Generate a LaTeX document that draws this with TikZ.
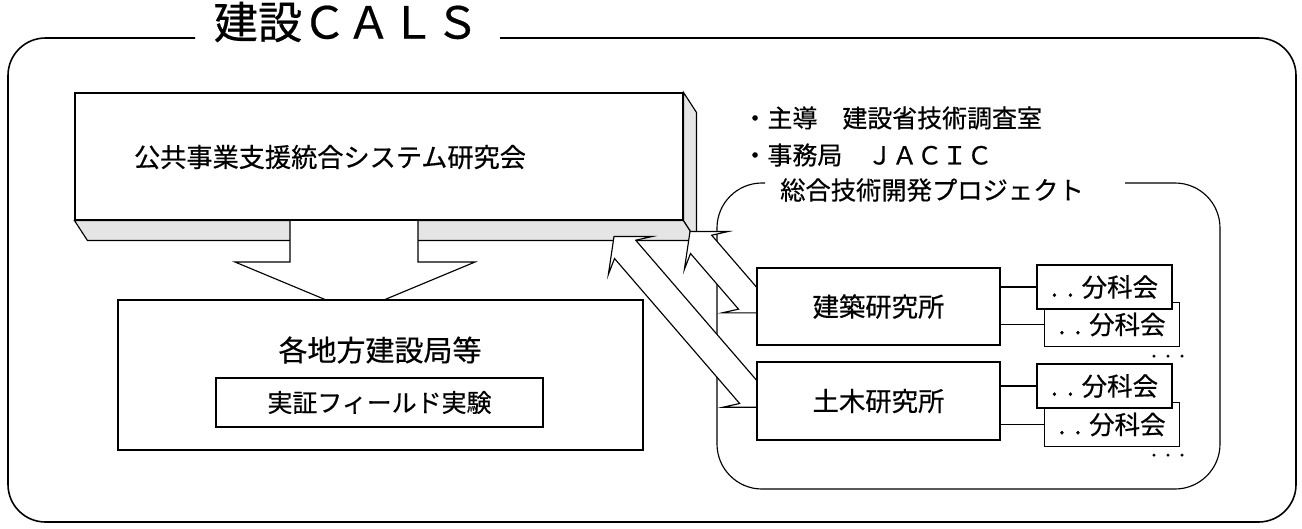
\documentclass[tikz,border=0pt]{standalone}
\usepackage{fontspec}
\setmainfont{Noto Sans CJK JP}[FakeBold=0.5]
\usetikzlibrary{calc}
\newcommand\dblarrow[3]{%
 \begin{scope}[shift={(#1,#2)}, rotate=-49.2]
  \filldraw[fill=white] (0,0) -- (25,29) -- (17,14) -- (#3-17,14) -- (#3-25,29) -- (#3,0) -- (#3-25,-29) -- (#3-17,-14) -- (17,-14) -- (25,-29) -- cycle;
 \end{scope}}
\begin{document}
\begin{tikzpicture}[x=0.02cm,y=-0.02cm, line width=0.65pt,
  box/.style={draw, fill=white, inner sep=0pt},
  fs/.style={font=\fontsize{#1}{#1}\selectfont},
  face/.style={draw, fill=gray!20},
  sub/.style={box, fs=14.5pt, minimum width=2.7cm, minimum height=0.88cm}]
\useasboundingbox (0,0) rectangle (1302,528);
% outer frame
\draw[line width=0.9pt, rounded corners=0.75cm] (195,38) -- (8,38) -- (8,522) -- (1296,522) -- (1296,38) -- (500,38);
\node[fs=25.2pt, inner sep=0pt] (title) at (346.5,22) {建設ＣＡＬＳ};
% project frame
\draw[rounded corners=0.9cm] (765,183) -- (717,183) -- (717,489) -- (1220,489) -- (1220,183) -- (1125,183);
\node[fs=14.4pt, inner sep=0pt] (projt) at (932,190) {総合技術開発プロジェクト};
% main 3D box
\node[box, minimum width=12.16cm, minimum height=2.54cm] (mainf) at (379,156.5) {};
\path[face] (mainf.south west) -- (mainf.south east) -- ($(mainf.south east)+(13,20)$) -- ($(mainf.south west)+(13,20)$) -- cycle;
\path[face] (mainf.north east) -- ($(mainf.north east)+(13,20)$) -- ($(mainf.south east)+(13,20)$) -- (mainf.south east) -- cycle;
\node[fs=14.9pt, inner sep=0pt] (maint) at (330,157) {公共事業支援統合システム研究会};
% down arrow
\fill[white] (290,221) -- (290,262) -- (235,262) -- (355,312) -- (475,262) -- (418,262) -- (418,221) -- cycle;
\draw (290,221) -- (290,262) -- (235,262) -- (355,312) -- (475,262) -- (418,262) -- (418,221);
% lower box
\node[box, minimum width=10.5cm, minimum height=3cm] (kyoku) at (380.5,375) {};
\node[fs=16.5pt, inner sep=0pt] (kyokut) at (380,350) {各地方建設局等};
\node[box, fs=14.2pt, minimum width=6.54cm, minimum height=0.98cm] (field) at (379.5,402.5) {実証フィールド実験};
% double arrows
\dblarrow{690}{231.5}{107.5}
\dblarrow{614}{236.5}{225.5}
% institutes
\node[box, fs=15pt, minimum width=4.86cm, minimum height=1.54cm] (kk) at (878.5,306.5) {建築研究所};
\node[box, fs=15pt, minimum width=4.86cm, minimum height=1.56cm] (dk) at (878.5,401) {土木研究所};
% sub committees
\node[sub] (a2) at (1112,324.5) {.\hspace{0.35em}.\hspace{0.3em}分科会};
\node[sub] (a1) at (1104.5,287) {.\hspace{0.35em}.\hspace{0.3em}分科会};
\node[sub] (b2) at (1112,424.5) {.\hspace{0.35em}.\hspace{0.3em}分科会};
\node[sub] (b1) at (1104.5,386) {.\hspace{0.35em}.\hspace{0.3em}分科会};
\draw (kk.east |- a1.west) -- (a1.west);
\draw (kk.east |- a2.west) -- (a2.west);
\draw (dk.east |- b1.west) -- (b1.west);
\draw (dk.east |- b2.west) -- (b2.west);
\node[fs=8pt, inner sep=0pt] (adots) at (1168,358) {・・・};
\node[fs=8pt, inner sep=0pt] (bdots) at (1168,457) {・・・};
% notes
\node[fs=14.2pt, anchor=west, inner sep=0pt] (lead) at (742,118) {・主導　建設省技術調査室};
\node[fs=14.2pt, anchor=west, inner sep=0pt] (secr) at (742,155) {・事務局　ＪＡＣＩＣ};
\end{tikzpicture}
\end{document}
